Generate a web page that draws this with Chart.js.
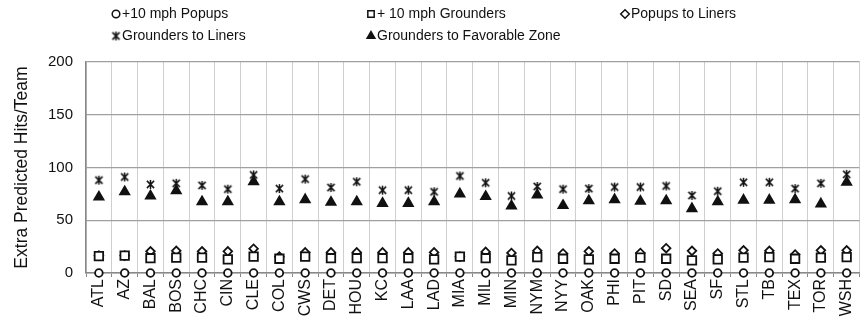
<!DOCTYPE html>
<html>
<head>
<meta charset="utf-8">
<script src="https://cdn.jsdelivr.net/npm/chart.js@4.4.0/dist/chart.umd.min.js"></script>
<style>
    html, body { margin: 0; padding: 0; overflow: hidden; background: #fff; }
    #wrap { width: 868px; height: 327px; }
</style>
</head>
<body>
<div id="wrap"><canvas id="hitsChart" width="868" height="327"></canvas></div>
<script>
const teams = ['ATL', 'AZ', 'BAL', 'BOS', 'CHC', 'CIN', 'CLE', 'COL', 'CWS', 'DET',
    'HOU', 'KC', 'LAA', 'LAD', 'MIA', 'MIL', 'MIN', 'NYM', 'NYY', 'OAK',
    'PHI', 'PIT', 'SD', 'SEA', 'SF', 'STL', 'TB', 'TEX', 'TOR', 'WSH'];
const popups10 = [0, 0, 0, 0, 0, 0, 0, 0, 0, 0, 0, 0, 0, 0, 0, 0, 0, 0, 0, 0, 0, 0, 0, 0, 0, 0, 0, 0, 0, 0];
const grounders10 = [16, 16.5, 14, 14.5, 14.5, 13, 15.5, 13.5, 15.5, 14,
    14, 14, 14, 13, 15.5, 14, 12, 15, 13.5, 13,
    13.5, 14.5, 13.5, 12, 13, 14.5, 15, 13.5, 14.5, 15];
const popupsToLiners = [16.5, 16.5, 20.5, 21, 20.5, 20.5, 23, 15.5, 19.5, 19.5,
    19.5, 19.5, 19.5, 19.5, 15.5, 20, 19, 21, 18.5, 20.5,
    18.5, 19, 23.5, 21, 18.5, 21.5, 21, 17.5, 21.5, 21.5];
const groundersToLiners = [88, 91, 84, 85, 83, 79.5, 93, 80, 89, 81,
    86.5, 78.5, 78.5, 77, 92, 85.5, 73, 82, 79.5, 80,
    81.5, 81.5, 82.5, 73.5, 77.5, 86, 86, 80, 85, 93.5];
const groundersToFavorable = [72, 77, 73, 78, 67.5, 67.5, 86.5, 67.5, 69.5, 67,
    67.5, 66, 66, 67.5, 75, 72.5, 63.5, 74, 64, 68.5,
    69.5, 68, 68.5, 61, 67.5, 69, 69, 69.5, 65.5, 86];
const yTicks = [0, 50, 100, 150, 200];

const FONT = '"Liberation Sans", Arial, sans-serif';

// excel-like star marker: an X with a vertical stroke
function starMarker(size) {
    const c = document.createElement('canvas');
    c.width = size; c.height = size;
    const g = c.getContext('2d');
    const m = size / 2, r = size / 2 - 1, d = r * 0.8;
    g.strokeStyle = '#111';
    g.lineWidth = 1.5;
    g.beginPath();
    g.moveTo(m - d, m - d); g.lineTo(m + d, m + d);
    g.moveTo(m + d, m - d); g.lineTo(m - d, m + d);
    g.moveTo(m, m - r); g.lineTo(m, m + r);
    g.stroke();
    return c;
}
const star = starMarker(11);

function series(label, data, style, radius, fill) {
    return {
        label: label,
        data: data,
        showLine: false,
        pointStyle: style,
        pointRadius: radius,
        pointHoverRadius: radius,
        pointBorderWidth: 1.8,
        borderColor: '#111',
        pointBorderColor: '#111',
        pointBackgroundColor: fill,
        backgroundColor: fill,
        clip: false
    };
}

// legend laid out in fixed columns like the original
const legendSlots = [[112, 14], [367, 14], [621, 14], [112, 36], [367, 36]];
const gridLegend = {
    id: 'gridLegend',
    afterDraw(chart) {
        const ctx = chart.ctx;
        ctx.save();
        chart.data.datasets.forEach((ds, i) => {
            const [x, y] = legendSlots[i];
            ctx.strokeStyle = ds.pointBorderColor;
            ctx.fillStyle = ds.pointBackgroundColor;
            ctx.lineWidth = 1.5;
            Chart.helpers.drawPoint(ctx, {
                pointStyle: ds.pointStyle,
                radius: Math.min(ds.pointRadius, 4.5),
                borderWidth: 1.5,
                rotation: 0
            }, x + 4, y);
            ctx.font = '14px ' + FONT;
            ctx.textBaseline = 'middle';
            ctx.fillStyle = '#111';
            ctx.fillText(ds.label, x + 10, y);
        });
        ctx.restore();
    }
};

new Chart(document.getElementById('hitsChart').getContext('2d'), {
    type: 'line',
    data: {
        labels: teams,
        datasets: [
            series('+10 mph Popups', popups10, 'circle', 3.8, '#fff'),
            series('+ 10 mph Grounders', grounders10, 'rect', 6, '#fff'),
            series('Popups to Liners', popupsToLiners, 'rectRot', 4.3, '#fff'),
            series('Grounders to Liners', groundersToLiners, star, 5, '#111'),
            series('Grounders to Favorable Zone', groundersToFavorable, 'triangle', 5.3, '#111')
        ]
    },
    options: {
        responsive: false,
        animation: false,
        events: [],
        layout: { padding: { top: 62, right: 2, bottom: 0, left: 0 } },
        plugins: {
            legend: { display: false },
            tooltip: { enabled: false }
        },
        scales: {
            x: {
                offset: true,
                grid: { offset: true, color: '#cfcfcf', lineWidth: 1, tickLength: 4, tickColor: '#888' },
                border: { color: '#888', width: 1.5 },
                ticks: {
                    autoSkip: false, maxRotation: 90, minRotation: 90, padding: 2,
                    color: '#111', font: { family: FONT, size: 16 }
                },
                afterFit(scale) { scale.height = 54; }
            },
            y: {
                min: 0,
                max: 200,
                afterBuildTicks(scale) { scale.ticks = yTicks.map(v => ({ value: v })); },
                grid: { color: '#a0a0a0', lineWidth: 1.3, drawTicks: false },
                border: { color: '#888', width: 1.5 },
                ticks: { padding: 13, color: '#111', font: { family: FONT, size: 15 } },
                title: {
                    display: true, text: 'Extra Predicted Hits/Team',
                    color: '#111', font: { family: FONT, size: 17.5 },
                    padding: { top: 12, bottom: 0 }
                },
                afterFit(scale) { scale.width = 86; }
            }
        }
    },
    plugins: [gridLegend]
});
</script>
</body>
</html>
